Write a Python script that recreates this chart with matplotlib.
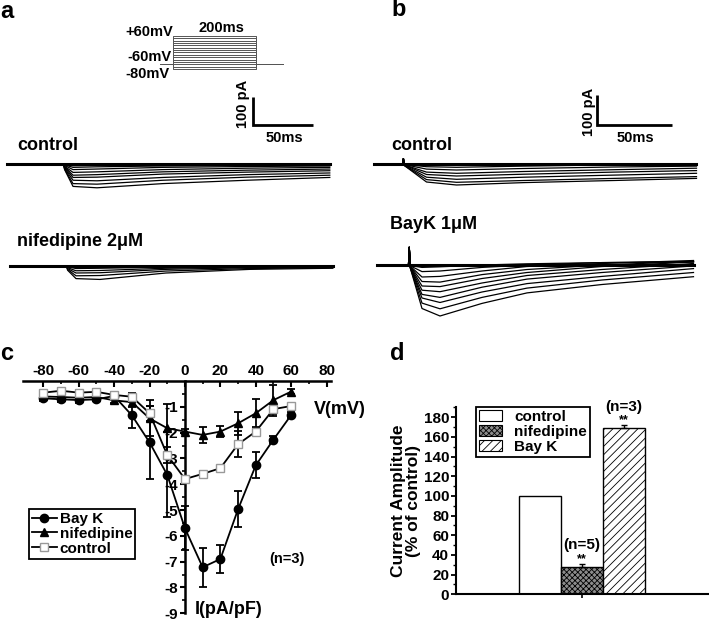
import matplotlib
matplotlib.use("Agg")
import matplotlib.pyplot as plt
from matplotlib.patches import Patch
from matplotlib.lines import Line2D

plt.rcParams['font.family'] = ['Liberation Sans', 'DejaVu Sans']
plt.rcParams['font.weight'] = 'bold'
plt.rcParams['axes.unicode_minus'] = False
plt.rcParams['hatch.linewidth'] = 0.6

# ---- panel a/b : protocol and current traces (ms, pA) ----
step_mv = [-80, -70, -60, -50, -40, -30, -20, -10, 0, 10, 20, 30, 40, 50, 60]
hold_mv = -60

t_a = [0, 47, 48, 55, 75, 130, 200, 269]
ctrl_a = [
    [0, 0, -20, -80, -85, -70, -58, -48],
    [0, 0, -18, -70, -72, -58, -47, -40],
    [0, 0, -15, -58, -60, -48, -38, -32],
    [0, 0, -12, -48, -47, -36, -29, -24],
    [0, 0, -10, -40, -38, -28, -22, -18],
    [0, 0, -8, -30, -28, -20, -15, -12],
    [0, 0, -5, -20, -18, -12, -9, -7],
    [0, 0, -3, -12, -10, -7, -5, -4],
    [0, 0, -2, -6, -5, -3, -2, -2],
    [0, 0, 0, -2, -2, -1, -1, 0],
]
nif_a = [
    [0, 0, -15, -45, -48, -25, -12, -8],
    [0, 0, -12, -35, -34, -18, -9, -6],
    [0, 0, -9, -25, -24, -12, -6, -4],
    [0, 0, -6, -17, -16, -8, -4, -3],
    [0, 0, -3, -9, -8, -4, -2, -2],
    [0, 0, -1, -3, -3, -2, -1, -1],
]

t_bc = [0, 19, 19.6, 20.2, 35, 55, 100, 160, 215]
ctrl_b = [
    [0, 0, 18, -5, -60, -70, -62, -55, -48],
    [0, 0, 18, -5, -52, -61, -55, -48, -42],
    [0, 0, 18, -4, -44, -51, -44, -37, -31],
    [0, 0, 18, -3, -35, -40, -34, -27, -22],
    [0, 0, 18, -3, -27, -31, -25, -19, -14],
    [0, 0, 18, -2, -17, -20, -15, -10, -7],
    [0, 0, 18, -1, -9, -11, -7, -3, -1],
    [0, 0, 18, 0, -3, -3, -2, -1, 0],
]

t_bk = [0, 21, 21.5, 22.2, 30, 42, 70, 100, 150, 211]
bayk_b = [
    [0, 0, 59, -10, -145, -170, -128, -93, -65, -39],
    [0, 0, 59, -10, -127, -146, -108, -77, -50, -25],
    [0, 0, 59, -9, -110, -125, -90, -62, -38, -12],
    [0, 0, 59, -8, -98, -108, -74, -47, -25, -3],
    [0, 0, 59, -7, -84, -89, -60, -35, -15, 5],
    [0, 0, 59, -6, -70, -72, -45, -25, -5, 10],
    [0, 0, 59, -5, -55, -57, -32, -15, 0, 12],
    [0, 0, 59, -4, -40, -38, -20, -5, 5, 15],
    [0, 0, 59, -3, -22, -20, -8, 0, 8, 12],
    [0, 0, 59, -2, -8, -6, 0, 4, 8, 10],
    [0, 0, 59, 0, 0, 0, 0, 0, 0, 0],
]

# ---- panel c : I-V curves ----
volt = [-80, -70, -60, -50, -40, -30, -20, -10, 0, 10, 20, 30, 40, 50, 60]
iv_bayk = [-0.67, -0.71, -0.74, -0.71, -0.58, -1.33, -2.38, -3.64, -5.71, -7.22, -6.90, -4.97, -3.27, -2.27, -1.32]
iv_bayk_err = [0.1, 0.12, 0.1, 0.08, 0.08, 0.5, 1.4, 1.65, 0.85, 0.75, 0.55, 0.7, 0.5, 0.15, 0.12]
iv_nif = [-0.6, -0.62, -0.65, -0.62, -0.75, -0.82, -1.45, -1.83, -1.96, -2.09, -1.96, -1.64, -1.25, -0.74, -0.41]
iv_nif_err = [0.1, 0.15, 0.1, 0.1, 0.12, 0.2, 0.7, 0.95, 0.1, 0.3, 0.2, 0.45, 0.55, 0.6, 0.1]
iv_ctrl = [-0.45, -0.38, -0.45, -0.42, -0.54, -0.61, -1.25, -2.87, -3.8, -3.6, -3.38, -2.45, -1.96, -1.09, -0.97]
iv_ctrl_err = [0.1, 0.1, 0.1, 0.1, 0.1, 0.15, 0.3, 0.3, 0.1, 0.1, 0.1, 0.5, 0.15, 0.2, 0.05]

# ---- panel d : bar chart ----
bar_names = ['control', 'nifedipine', 'Bay K']
bar_vals = [100, 28, 169.5]
bar_err = [0, 3, 2.5]
bar_n = ['', '(n=5)', '(n=3)']

W, H = 709, 621
fig = plt.figure(figsize=(W / 100, H / 100), dpi=100)


def px_axes(left, top, width, height):
    return fig.add_axes([left / W, 1 - (top + height) / H, width / W, height / H])


def trace_axes(x0, base_y, ppms, pppa, t_max, i_min, i_max):
    ax = px_axes(x0, base_y - i_max * pppa, t_max * ppms, (i_max - i_min) * pppa)
    ax.set_xlim(0, t_max)
    ax.set_ylim(i_min, i_max)
    ax.axis('off')
    return ax


def ftext(x, y, s, **kw):
    kw.setdefault('ha', 'left')
    kw.setdefault('va', 'center')
    fig.text(x / W, 1 - y / H, s, **kw)


# protocol
axp = px_axes(160, 36, 123, 33)
axp.set_xlim(-31, 265)
axp.set_ylim(-80, 60)
axp.axis('off')
for v in step_mv:
    axp.plot([-31, 0, 0, 200, 200, 265], [hold_mv, hold_mv, v, v, hold_mv, hold_mv],
             color='#555555', lw=0.7, clip_on=False)

# traces
for x0, base, ppms, pppa, tt, traces, tmax, lo, hi in [
        (7, 164, 1.2, 0.28, t_a, ctrl_a, 269, -120, 40),
        (10, 266, 1.2, 0.28, t_a, nif_a, 269, -120, 40),
        (374, 164, 1.5, 0.30, t_bc, ctrl_b, 215, -100, 40),
        (377, 265, 1.5, 0.30, t_bk, bayk_b, 211, -190, 70)]:
    ax = trace_axes(x0, base, ppms, pppa, tmax, lo, hi)
    for tr in traces:
        ax.plot(tt, tr, color='black', lw=0.9, clip_on=False)
    ax.plot(tt, [0] * len(tt), color='black', lw=2.2, clip_on=False)

# scale bars
for x0, base, ppms, pppa in [(253, 125, 1.2, 0.28), (597, 125, 1.5, 0.30)]:
    ax = trace_axes(x0, base, ppms, pppa, 50, 0, 100)
    ax.plot([0, 0, 50], [100, 0, 0], color='black', lw=2, clip_on=False,
            solid_capstyle='butt', solid_joinstyle='miter')

ftext(6.5, 11, 'a', fontsize=17, ha='center')
ftext(398.5, 10, 'b', fontsize=17, ha='center')
ftext(6.5, 353, 'c', fontsize=17, ha='center')
ftext(397, 354, 'd', fontsize=17, ha='center')

ftext(173, 31.5, '+60mV', fontsize=10.5, ha='right')
ftext(221.5, 27.5, '200ms', fontsize=10.5, ha='center')
ftext(172, 57, '-60mV', fontsize=10.5, ha='right')
ftext(170, 74, '-80mV', fontsize=10.5, ha='right')
ftext(243, 104, '100 pA', fontsize=10.5, ha='center', rotation=90)
ftext(284.5, 137.5, '50ms', fontsize=10.5, ha='center')
ftext(589, 112, '100 pA', fontsize=10.5, ha='center', rotation=90)
ftext(635, 137.5, '50ms', fontsize=10.5, ha='center')

ftext(17, 145, 'control', fontsize=13)
ftext(17, 242, 'nifedipine 2μM', fontsize=13)
ftext(391, 145, 'control', fontsize=13)
ftext(390, 224, 'BayK 1μM', fontsize=13)

# ---- panel c ----
axc = px_axes(23, 381, 308, 232.2)
axc.set_xlim(-91.5, 82.5)
axc.set_ylim(-9, 0)
for s in ['right', 'bottom']:
    axc.spines[s].set_visible(False)
axc.spines['left'].set_position(('data', 0))
axc.spines['top'].set_linewidth(1.8)
axc.spines['left'].set_linewidth(1.8)
axc.xaxis.tick_top()
axc.set_xticks([-80, -60, -40, -20, 0, 20, 40, 60, 80])
axc.set_xticks(volt + [70, 80], minor=True)
axc.set_yticks([-1, -2, -3, -4, -5, -6, -7, -8, -9])
axc.set_yticks([-0.5, -1.5, -2.5, -3.5, -4.5, -5.5, -6.5, -7.5, -8.5], minor=True)
axc.tick_params(axis='x', which='major', direction='in', length=4, width=1.5,
                labelsize=11, pad=2)
axc.tick_params(axis='x', which='minor', direction='in', length=2.5, width=1.2)
axc.tick_params(axis='y', which='major', direction='out', length=3.5, width=1.5,
                labelsize=11, pad=1.5)
axc.tick_params(axis='y', which='minor', direction='out', length=2, width=1.2)
axc.patch.set_visible(False)

axc.errorbar(volt, iv_bayk, yerr=iv_bayk_err, color='black', lw=1.3, marker='o', ms=6,
             mfc='black', mec='black', capsize=2.8, elinewidth=1.3, capthick=1.3,
             clip_on=False, zorder=3, label='Bay K')
axc.errorbar(volt, iv_nif, yerr=iv_nif_err, color='black', lw=1.3, marker='^', ms=6,
             mfc='black', mec='black', capsize=2.8, elinewidth=1.3, capthick=1.3,
             clip_on=False, zorder=3, label='nifedipine')
axc.errorbar(volt, iv_ctrl, yerr=iv_ctrl_err, color='black', lw=1.3, marker='s', ms=5.5,
             mfc='white', mec='#999999', capsize=2.8, elinewidth=1.3, capthick=1.3,
             clip_on=False, zorder=3, label='control')

hc = [Line2D([], [], color='black', lw=1.3, marker='o', ms=6),
      Line2D([], [], color='black', lw=1.3, marker='^', ms=6),
      Line2D([], [], color='black', lw=1.3, marker='s', ms=5.5, mfc='white', mec='#999999')]
legc = axc.legend(hc, ['Bay K', 'nifedipine', 'control'], loc='upper left',
                  bbox_to_anchor=(29 / W, 1 - 509 / H), bbox_transform=fig.transFigure,
                  frameon=True, fancybox=False, framealpha=1, edgecolor='black',
                  borderpad=0.2, labelspacing=0.05, handlelength=1.6, handletextpad=0.2,
                  borderaxespad=0, prop={'size': 11, 'weight': 'bold'})
legc.get_frame().set_linewidth(1.3)

ftext(340, 409, 'V(mV)', fontsize=13, ha='center')
ftext(195, 609, 'I(pA/pF)', fontsize=13)
ftext(269, 559, '(n=3)', fontsize=10.5)

# ---- panel d ----
axd = px_axes(456, 407.5, 252, 186.8)
axd.set_xlim(-3, 3)
axd.set_ylim(0, 190)
bar_x = [-1, 0, 1]
faces = ['white', '#8c8c8c', 'white']
hatches = ['', 'xxxxxx', '////']
for x, v, fc, hh in zip(bar_x, bar_vals, faces, hatches):
    axd.bar(x, v, width=1, facecolor=fc, edgecolor='black', hatch=hh, lw=1)
for x, v, e, n in zip(bar_x, bar_vals, bar_err, bar_n):
    if e > 0:
        axd.errorbar(x, v, yerr=[[0], [e]], fmt='none', ecolor='black', capsize=2,
                     elinewidth=1, capthick=1)
        axd.text(x, v + e + 5, '**', ha='center', va='center', fontsize=9)
        axd.text(x, v + e + 19, n, ha='center', va='center', fontsize=11)
for s in ['top', 'right']:
    axd.spines[s].set_visible(False)
axd.spines['left'].set_linewidth(1.5)
axd.spines['bottom'].set_linewidth(1.5)
axd.set_xticks([0])
axd.set_xticklabels([''])
axd.set_yticks(range(0, 181, 20))
axd.set_yticks(range(10, 191, 20), minor=True)
axd.tick_params(axis='x', direction='out', length=3, width=1.2)
axd.tick_params(axis='y', which='major', direction='out', length=3.5, width=1.3,
                labelsize=11, pad=1.5)
axd.tick_params(axis='y', which='minor', direction='out', length=2, width=1)
axd.set_ylabel('Current Amplitude\n(% of control)', fontsize=12.5, fontweight='bold',
               labelpad=2, linespacing=0.95)

hd = [Patch(facecolor=fc, edgecolor='black', hatch=hh, lw=0.8) for fc, hh in zip(faces, hatches)]
legd = axd.legend(hd, bar_names, loc='upper left',
                  bbox_to_anchor=(476 / W, 1 - 407 / H), bbox_transform=fig.transFigure,
                  frameon=True, fancybox=False, framealpha=1, edgecolor='black',
                  borderpad=0.2, labelspacing=0.05, handlelength=1.5, handleheight=0.7,
                  handletextpad=0.8, borderaxespad=0, prop={'size': 11, 'weight': 'bold'})
legd.get_frame().set_linewidth(1.3)

fig.savefig('out.png', dpi=100)
